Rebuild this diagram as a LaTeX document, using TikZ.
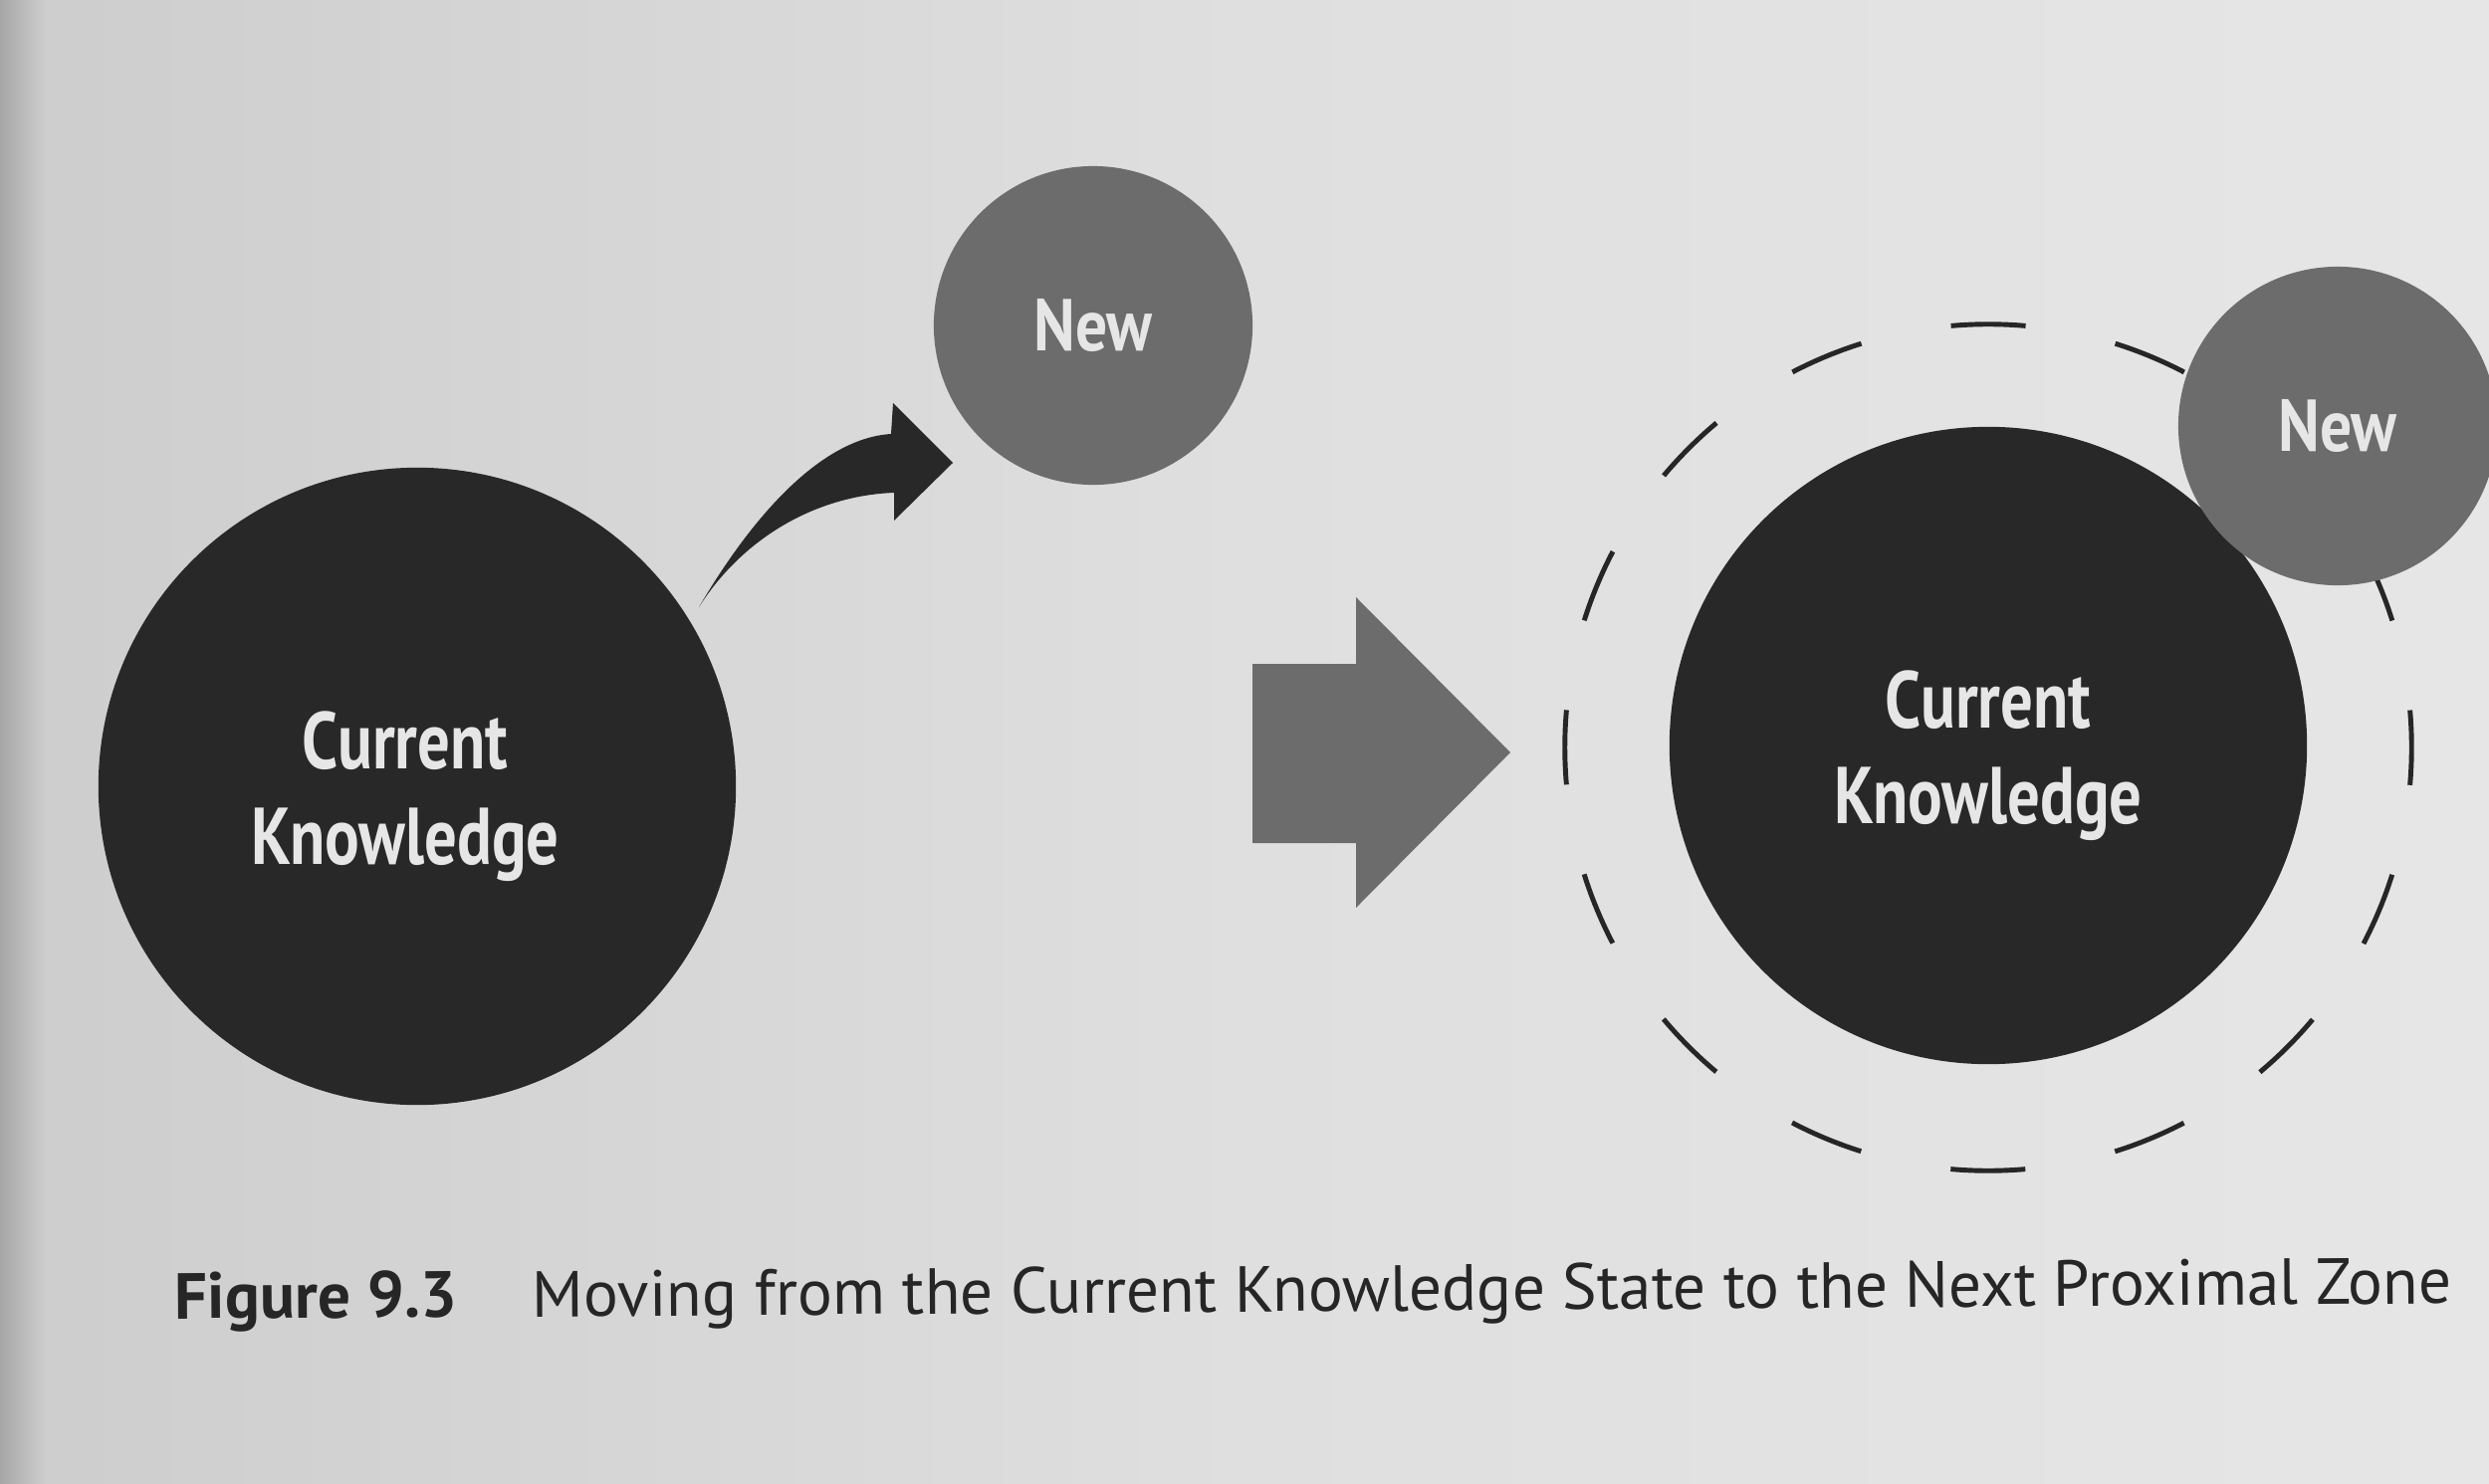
\documentclass[tikz,border=0pt]{standalone}
\usepackage{fontspec}
\setmainfont{PT Sans}
\newfontfamily\labelfont[FakeStretch=0.8]{PT Sans}
\newfontfamily\newlabelfont[FakeStretch=0.86]{PT Sans}
\usetikzlibrary{shapes.geometric}
\definecolor{darkfill}{HTML}{282828}
\definecolor{grayfill}{HTML}{6C6C6C}
\definecolor{labeltext}{HTML}{E6E6E6}
\definecolor{bgleft}{HTML}{CDCDCD}
\definecolor{bgmid}{HTML}{DFDFDF}
\definecolor{bgright}{HTML}{E6E6E6}
\definecolor{captext}{HTML}{262626}
\tikzset{
  knowcircle/.style={circle, fill=darkfill, minimum size=6.4cm, inner sep=0pt},
  knowlabel/.style={text=labeltext, align=center, inner sep=0pt,
    font=\labelfont\bfseries\fontsize{23}{27.3}\selectfont},
  newcircle/.style={circle, fill=grayfill, minimum size=3.2cm, inner sep=0pt,
    text=labeltext, font=\newlabelfont\bfseries\fontsize{21}{24}\selectfont},
  zonecircle/.style={circle, draw=captext, line width=1.4pt, minimum size=8.5cm, inner sep=0pt,
    dash pattern=on 0.75cm off 0.919cm, dash phase=0.375cm},
  captionfont/.style={text=captext, inner sep=0pt, anchor=base west, rotate=0.4,
    font=\fontsize{18.6}{22}\selectfont}
}
\begin{document}
\begin{tikzpicture}[x=0.01cm, y=-0.01cm]
\useasboundingbox (0,0) rectangle (2500,1491);
% paper background
\shade[left color=bgleft, right color=bgright, middle color=bgmid] (0,0) rectangle (2500,1491);
\shade[left color=black!35, right color=bgleft] (0,0) rectangle (45,1491);

% left group
\node[knowcircle] (ck1) at (419,790) {};
\node[knowlabel] (ck1text) at ([shift={(-12,10)}]ck1.center) {Current\\Knowledge};
\node[newcircle] (new1) at (1098,327) {New};
\fill[darkfill] (702,610) .. controls (762,508) and (830,440) .. (895,436)
   -- (897,405) -- (957,465) -- (898,523) -- (898,495)
   .. controls (818,498) and (745,542) .. (702,610) -- cycle;

% block arrow
\fill[grayfill] (1258,667) -- (1362,667) -- (1362,600) -- (1517,756)
   -- (1362,912) -- (1362,847) -- (1258,847) -- cycle;

% right group
\node[zonecircle] (zone) at (1997,751) {};
\node[knowcircle] (ck2) at (1997,749) {};
\node[knowlabel] (ck2text) at ([shift={(0,10)}]ck2.center) {Current\\Knowledge};
\node[newcircle] (new2) at (2348,428) {New};

% caption
\node[captionfont] (figno) at (175,1325) {\bfseries Figure 9.3};
\node[captionfont] (captxt) at (534,1323) {Moving from the Current Knowledge State to the Next Proximal Zone};
\end{tikzpicture}
\end{document}
